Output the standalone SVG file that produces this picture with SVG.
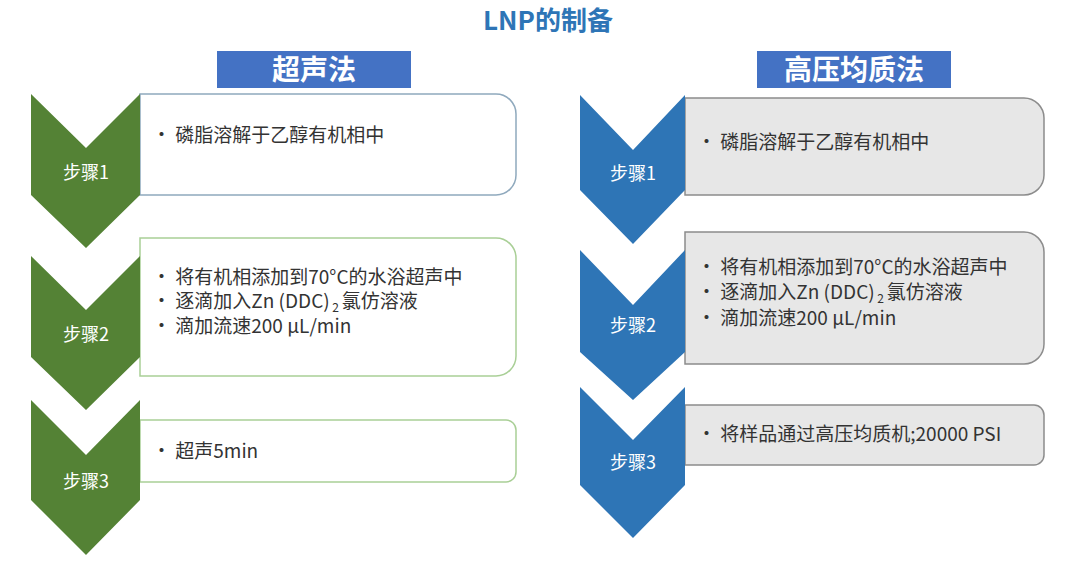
<svg xmlns="http://www.w3.org/2000/svg" width="1080" height="567" viewBox="0 0 1080 567">
<style>
text{font-family:"Noto Sans CJK SC","Noto Sans",sans-serif}
.t{font-size:19px;fill:#333}
.lbl{font-size:18px;fill:#fff;text-anchor:middle}
.hd{font-size:28px;font-weight:bold;fill:#fff;text-anchor:middle}
.g{fill:#548235}
.b{fill:#2e75b6}
.wb{fill:#fff;stroke:#8fa9bd;stroke-width:1.5}
.wg{fill:#fff;stroke:#a9cf96;stroke-width:1.5}
.gb{fill:#e7e7e7;stroke:#8c8c8c;stroke-width:1.5}
</style>
<rect width="1080" height="567" fill="#fff"/>
<text x="548" y="30" font-size="26" font-weight="bold" fill="#2e75b6" text-anchor="middle">LNP的制备</text>
<g id="h1"><rect x="217" y="51" width="194" height="37" fill="#4472c4"/><text class="hd" x="314" y="80">超声法</text></g>
<g id="h2"><rect x="757" y="51" width="194" height="37" fill="#4472c4"/><text class="hd" x="854" y="80">高压均质法</text></g>
<g id="L1"><path class="wb" d="M140 94H496a20 20 0 0 1 20 20V175a20 20 0 0 1-20 20H140Z"/><polygon class="g" points="31,94 86,148 140,94 140,195 86,248 31,195"/><text class="lbl" x="86" y="179">步骤1</text><text class="t" x="152" y="142">· 磷脂溶解于乙醇有机相中</text></g>
<g id="L2"><path class="wg" d="M140 238H496a20 20 0 0 1 20 20V356a20 20 0 0 1-20 20H140Z"/><polygon class="g" points="31,256 86,310 140,256 140,357 86,410 31,357"/><text class="lbl" x="86" y="341">步骤2</text><text class="t" x="152" y="284">· 将有机相添加到70°C的水浴超声中</text><text class="t" x="152" y="308">· 逐滴加入Zn (DDC)<tspan font-size="12" dy="4"> 2 </tspan><tspan dy="-4">氯仿溶液</tspan></text><text class="t" x="152" y="333">· 滴加流速200 μL/min</text></g>
<g id="L3"><path class="wg" d="M140 420H506a10 10 0 0 1 10 10V472a10 10 0 0 1-10 10H140Z"/><polygon class="g" points="31,400 86,455 140,400 140,500 86,555 31,500"/><text class="lbl" x="86" y="488">步骤3</text><text class="t" x="152" y="458">· 超声5min</text></g>
<g id="R1"><path class="gb" d="M685 98H1024a20 20 0 0 1 20 20V175a20 20 0 0 1-20 20H685Z"/><polygon class="b" points="580,95 633,150 685,95 685,190 633,244 580,190"/><text class="lbl" x="633" y="180">步骤1</text><text class="t" x="697" y="149">· 磷脂溶解于乙醇有机相中</text></g>
<g id="R2"><path class="gb" d="M685 232H1024a20 20 0 0 1 20 20V344a20 20 0 0 1-20 20H685Z"/><polygon class="b" points="580,250 633,305 685,250 685,352 633,400 580,352"/><text class="lbl" x="633" y="332">步骤2</text><text class="t" x="697" y="274">· 将有机相添加到70°C的水浴超声中</text><text class="t" x="697" y="299">· 逐滴加入Zn (DDC)<tspan font-size="12" dy="4"> 2 </tspan><tspan dy="-4">氯仿溶液</tspan></text><text class="t" x="697" y="325">· 滴加流速200 μL/min</text></g>
<g id="R3"><path class="gb" d="M685 405H1034a10 10 0 0 1 10 10V455a10 10 0 0 1-10 10H685Z"/><polygon class="b" points="580,387 633,440 685,387 685,485 633,538 580,485"/><text class="lbl" x="633" y="469">步骤3</text><text class="t" x="697" y="441">· 将样品通过高压均质机;20000 PSI</text></g>
<g id="connectors"/>
</svg>
